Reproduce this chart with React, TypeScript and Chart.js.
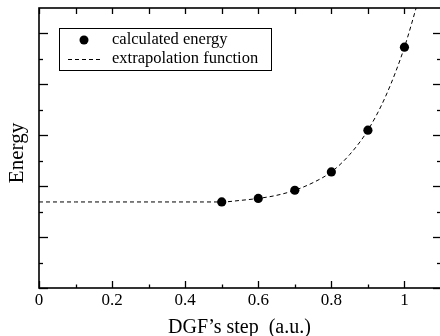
import React, { useEffect, useRef } from "react";
import { Chart, registerables } from "chart.js";

Chart.register(...registerables);

// Computed energies at each DGF step
const steps = [0.5, 0.6, 0.7, 0.8, 0.9, 1.0];
const energies = [1.69, 1.76, 1.92, 2.28, 3.1, 4.73];

// Extrapolation curve sampled along the step axis
const fitSteps = [0, 0.1, 0.2, 0.3, 0.4, 0.45, 0.5, 0.55, 0.6, 0.65, 0.7, 0.75, 0.8, 0.85, 0.9, 0.95, 1.0, 1.036];
const fitEnergies = [1.69, 1.69, 1.69, 1.69, 1.69, 1.69, 1.69, 1.72, 1.76, 1.82, 1.92, 2.07, 2.28, 2.62, 3.1, 3.79, 4.73, 5.6];

// Axis ticks
const xMajorTicks = [0, 0.2, 0.4, 0.6, 0.8, 1];
const xTickLabels = ["0", "0.2", "0.4", "0.6", "0.8", "1"];
const xMinorTicks = [0.1, 0.3, 0.5, 0.7, 0.9];
const yMajorTicks = [0, 1, 2, 3, 4, 5];
const yMinorTicks = [0.5, 1.5, 2.5, 3.5, 4.5];

const legendLabels = ["calculated energy", "extrapolation function"];
const xTitle = "DGF\u2019s step  (a.u.)";
const yTitle = "Energy";

const SERIF = '"Liberation Serif", "Times New Roman", serif';

const framePlugin = {
  id: "frameAndLegend",
  afterDraw(chart: any) {
    const ctx = chart.ctx as CanvasRenderingContext2D;
    const { left, right, top, bottom } = chart.chartArea;
    const xs = chart.scales.x;
    const ys = chart.scales.y;
    ctx.save();
    ctx.strokeStyle = "#000";
    ctx.fillStyle = "#000";

    // frame
    ctx.lineWidth = 1.6;
    ctx.strokeRect(left, top, right - left, bottom - top);

    // inward ticks
    ctx.lineWidth = 1.3;
    const line = (x1: number, y1: number, x2: number, y2: number) => {
      ctx.beginPath();
      ctx.moveTo(x1, y1);
      ctx.lineTo(x2, y2);
      ctx.stroke();
    };
    xMajorTicks.forEach((v) => {
      const px = Math.round(xs.getPixelForValue(v)) + 0.5;
      line(px, bottom, px, bottom - 7);
      line(px, top, px, top + 6);
    });
    xMinorTicks.forEach((v) => {
      const px = Math.round(xs.getPixelForValue(v)) + 0.5;
      line(px, bottom, px, bottom - 3.5);
      line(px, top, px, top + 6);
    });
    yMajorTicks.forEach((v) => {
      const py = Math.round(ys.getPixelForValue(v)) + 0.5;
      line(left, py, left + 9, py);
      line(right, py, right - 8, py);
    });
    yMinorTicks.forEach((v) => {
      const py = Math.round(ys.getPixelForValue(v)) + 0.5;
      line(left, py, left + 4, py);
      line(right, py, right - 4, py);
    });

    // x tick labels
    ctx.font = `17px ${SERIF}`;
    ctx.textAlign = "center";
    ctx.textBaseline = "alphabetic";
    xMajorTicks.forEach((v, i) => {
      ctx.fillText(xTickLabels[i], xs.getPixelForValue(v), bottom + 17);
    });

    // axis titles
    ctx.font = `20px ${SERIF}`;
    ctx.fillText(xTitle, (left + 440) / 2, 333);
    ctx.save();
    ctx.translate(23, 153);
    ctx.rotate(-Math.PI / 2);
    ctx.font = `21px ${SERIF}`;
    ctx.fillText(yTitle, 0, 0);
    ctx.restore();

    // legend
    ctx.lineWidth = 1;
    ctx.strokeRect(59.5, 28.5, 212, 42);
    ctx.beginPath();
    ctx.arc(84, 40, 4.5, 0, Math.PI * 2);
    ctx.fill();
    ctx.setLineDash([4, 3]);
    line(68, 59.5, 101, 59.5);
    ctx.setLineDash([]);
    ctx.font = `16.5px ${SERIF}`;
    ctx.textAlign = "left";
    ctx.textBaseline = "middle";
    ctx.fillText(legendLabels[0], 112, 40);
    ctx.fillText(legendLabels[1], 112, 59);
    ctx.restore();
  },
};

export default function App() {
  const canvasRef = useRef<HTMLCanvasElement | null>(null);

  useEffect(() => {
    const canvas = canvasRef.current;
    if (!canvas) return;
    const chart = new Chart(canvas, {
      type: "line",
      data: {
        datasets: [
          {
            label: legendLabels[1],
            data: fitSteps.map((x, i) => ({ x, y: fitEnergies[i] })),
            borderColor: "#000",
            borderWidth: 1,
            borderDash: [4, 3],
            pointRadius: 0,
            cubicInterpolationMode: "monotone",
            fill: false,
            order: 2,
          },
          {
            label: legendLabels[0],
            data: steps.map((x, i) => ({ x, y: energies[i] })),
            showLine: false,
            pointRadius: 4.6,
            pointBackgroundColor: "#000",
            pointBorderColor: "#000",
            pointBorderWidth: 0,
            order: 1,
          },
        ],
      },
      options: {
        responsive: false,
        animation: false,
        devicePixelRatio: 1,
        layout: { padding: { left: 39, top: 8, right: 5, bottom: 48 } },
        plugins: { legend: { display: false }, tooltip: { enabled: false } },
        scales: {
          x: { type: "linear", min: 0, max: 1.1, display: false },
          y: { type: "linear", min: 0, max: 5.5, display: false },
        },
      },
      plugins: [framePlugin],
    });
    return () => chart.destroy();
  }, []);

  return (
    <div
      style={{
        position: "fixed",
        left: 0,
        top: 0,
        width: 440,
        height: 336,
        overflow: "hidden",
        background: "#fff",
      }}
    >
      <canvas ref={canvasRef} width={446} height={336} style={{ display: "block" }} />
    </div>
  );
}
